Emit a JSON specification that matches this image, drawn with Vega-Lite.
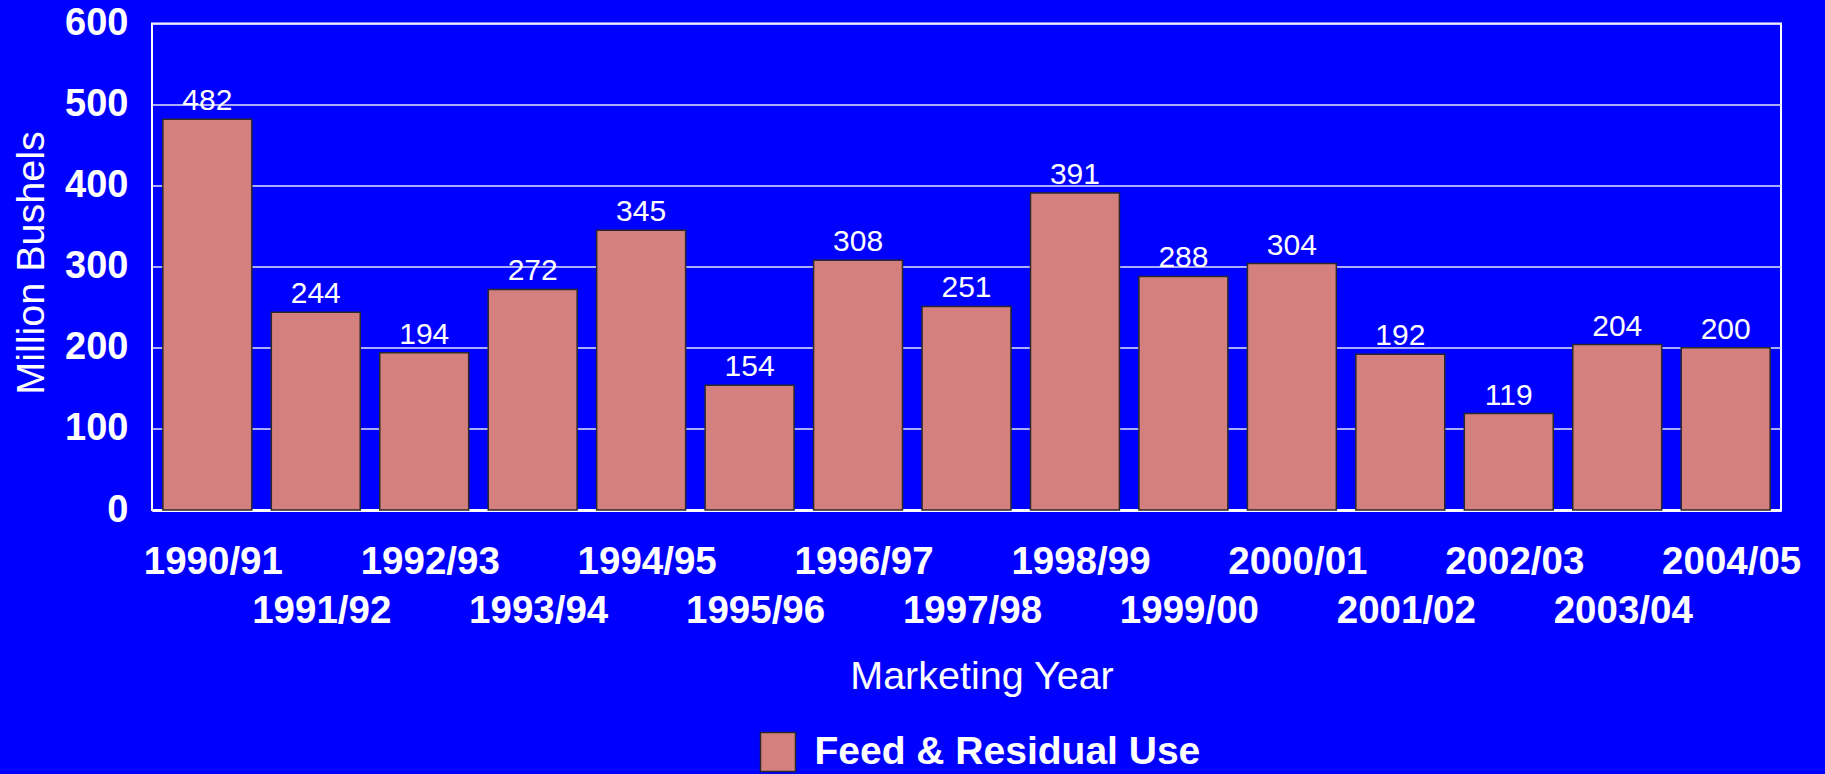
{
  "$schema": "https://vega.github.io/schema/vega-lite/v6.json",
  "autosize": {"type": "none"},
  "width": 1629,
  "height": 486.5,
  "padding": {"left": 152, "top": 23.5, "right": 44, "bottom": 264},
  "background": "#0000FF",
  "config": {
    "font": "Liberation Sans",
    "view": {"stroke": "#FFFFFF", "strokeWidth": 2},
    "axis": {"labelColor": "#FFFFFF", "titleColor": "#FFFFFF", "ticks": false, "tickSize": 0}
  },
  "data": {
    "values": [
      {"year": "1990/91", "value": 482, "series": "Feed & Residual Use"},
      {"year": "1991/92", "value": 244, "series": "Feed & Residual Use"},
      {"year": "1992/93", "value": 194, "series": "Feed & Residual Use"},
      {"year": "1993/94", "value": 272, "series": "Feed & Residual Use"},
      {"year": "1994/95", "value": 345, "series": "Feed & Residual Use"},
      {"year": "1995/96", "value": 154, "series": "Feed & Residual Use"},
      {"year": "1996/97", "value": 308, "series": "Feed & Residual Use"},
      {"year": "1997/98", "value": 251, "series": "Feed & Residual Use"},
      {"year": "1998/99", "value": 391, "series": "Feed & Residual Use"},
      {"year": "1999/00", "value": 288, "series": "Feed & Residual Use"},
      {"year": "2000/01", "value": 304, "series": "Feed & Residual Use"},
      {"year": "2001/02", "value": 192, "series": "Feed & Residual Use"},
      {"year": "2002/03", "value": 119, "series": "Feed & Residual Use"},
      {"year": "2003/04", "value": 204, "series": "Feed & Residual Use"},
      {"year": "2004/05", "value": 200, "series": "Feed & Residual Use"}
    ]
  },
  "encoding": {
    "x": {
      "field": "year",
      "type": "ordinal",
      "sort": null,
      "scale": {"paddingInner": 0.18, "paddingOuter": 0.1},
      "axis": {
        "title": "Marketing Year",
        "titleFont": "Liberation Sans",
        "titleFontSize": 39.5,
        "titleFontWeight": "normal",
        "titleBaseline": "alphabetic",
        "titleAlign": "center",
        "titleX": 829.5,
        "titleY": 178,
        "labelFontSize": 38.5,
        "labelFontWeight": "bold",
        "labelAngle": 0,
        "labelAlign": "center",
        "labelBaseline": "top",
        "labelPadding": 33,
        "labelOffset": 6,
        "labelLineHeight": 49,
        "labelOverlap": false,
        "labelBound": false,
        "labelLimit": 400,
        "labelExpr": "toNumber(substring(datum.label,0,4)) % 2 == 1 ? ['', datum.label] : datum.label",
        "domain": true,
        "domainColor": "#FFFFFF",
        "domainWidth": 3,
        "grid": false
      }
    },
    "y": {
      "field": "value",
      "type": "quantitative",
      "scale": {"domain": [0, 600], "nice": false},
      "axis": {
        "title": "Million Bushels",
        "titleFontSize": 39.5,
        "titleFontWeight": "normal",
        "titleAngle": -90,
        "titleBaseline": "alphabetic",
        "titleAlign": "center",
        "titleX": -109,
        "titleY": 239,
        "values": [0, 100, 200, 300, 400, 500, 600],
        "labelFontSize": 38,
        "labelFontWeight": "bold",
        "labelPadding": 24,
        "labelBaseline": "middle",
        "domain": false,
        "grid": true,
        "gridColor": "#E6E6FF",
        "gridWidth": 1.5
      }
    }
  },
  "layer": [
    {
      "mark": {"type": "bar", "stroke": "#2A2A2A", "strokeWidth": 1.5},
      "encoding": {
        "color": {
          "field": "series",
          "type": "nominal",
          "scale": {"range": ["#D4807F"]},
          "legend": {
            "title": null,
            "orient": "none",
            "legendX": 606.5,
            "legendY": 709,
            "padding": 0,
            "symbolType": "M-1,-1.114H1V1.114H-1Z",
            "symbolSize": 1225,
            "symbolStrokeColor": "#2A2A2A",
            "symbolStrokeWidth": 1.5,
            "symbolOpacity": 1,
            "labelFontSize": 39,
            "labelFontWeight": "bold",
            "labelColor": "#FFFFFF",
            "labelOffset": 17,
            "labelLimit": 600
          }
        }
      }
    },
    {
      "mark": {"type": "text", "baseline": "alphabetic", "dy": -9, "fontSize": 30, "color": "#FFFFFF", "font": "Liberation Sans"},
      "encoding": {"text": {"field": "value", "type": "quantitative"}}
    }
  ]
}
